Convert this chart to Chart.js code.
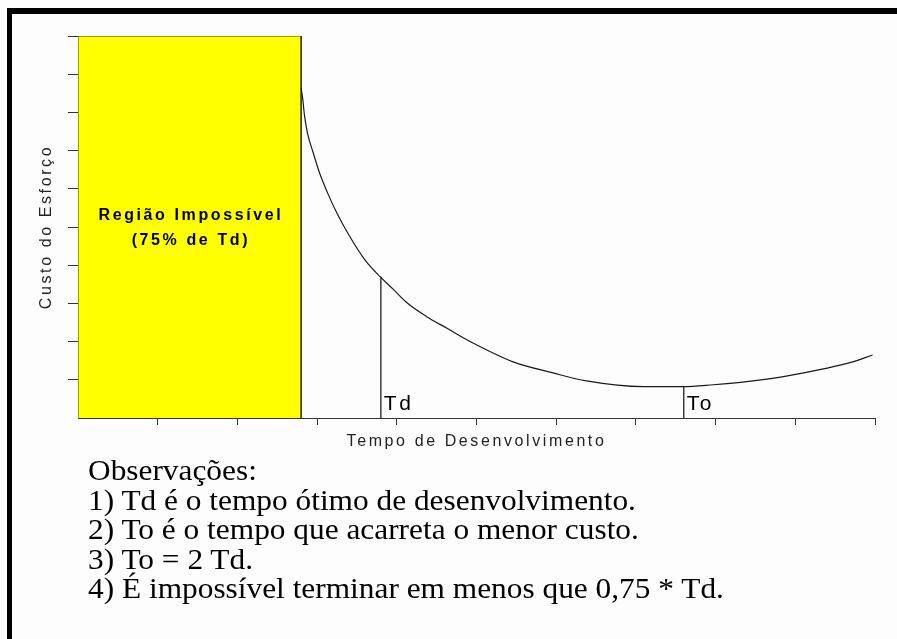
<!DOCTYPE html>
<html>
<head>
<meta charset="utf-8">
<script src="https://cdn.jsdelivr.net/npm/chart.js@4"></script>
<style>
  html, body { margin: 0; padding: 0; background: #fff; }
  #page { position: relative; width: 897px; height: 639px; overflow: hidden; background: #fdfdfd; }
  #frame { position: absolute; left: 7px; top: 8px; width: 900px; height: 640px;
           border-top: 6px solid #000; border-left: 5px solid #000; }
  #chart-box { position: absolute; left: 0; top: 0; width: 897px; height: 460px; }
  #notes { position: absolute; left: 88px; top: 455px; font-family: "Liberation Serif", serif;
           font-size: 30px; line-height: 29.5px; color: #000; white-space: nowrap;
           transform: scaleX(1.045); transform-origin: left top; }
</style>
</head>
<body>
<div id="page">
  <div id="frame"></div>
  <div id="chart-box"><canvas id="effort-chart"></canvas></div>
  <div id="notes">
    <div>Observações:</div>
    <div>1) Td é o tempo ótimo de desenvolvimento.</div>
    <div>2) To é o tempo que acarreta o menor custo.</div>
    <div>3) To = 2 Td.</div>
    <div>4) É impossível terminar em menos que 0,75 * Td.</div>
  </div>
</div>
<script>
// Curve (x = tempo, y = custo, both 0..10)
const curveX = [2.80, 2.82, 2.84, 2.88, 2.95, 3.03, 3.13, 3.24, 3.41, 3.60, 3.79, 3.95, 4.12,
                4.37, 4.62, 4.95, 5.46, 5.96, 6.38, 7.09, 7.59, 7.97, 8.39, 8.97, 9.72, 9.97];
const curveY = [8.63, 8.35, 7.95, 7.45, 6.95, 6.42, 5.90, 5.40, 4.75, 4.14, 3.70, 3.38, 3.03,
                2.66, 2.36, 1.97, 1.47, 1.18, 0.97, 0.82, 0.82, 0.87, 0.95, 1.13, 1.47, 1.65];

// Impossible region (0 .. 0.75 * Td) and the two marked times
const regionX = [0, 0, 2.8, 2.8];
const regionY = [0, 10, 10, 0];
const markNames = ["Td", "To"];
const markX = [3.8, 7.6];
const markY = [3.70, 0.82];

const axisMin = 0;
const axisMax = 10;

const toPoints = (xs, ys) => xs.map((x, i) => ({ x: x, y: ys[i] }));

const noZeroTick = (ctx) => (ctx.tick && ctx.tick.value === 0) ? "rgba(0,0,0,0)" : "#333";

// letter spacing for the scale titles (the original font is spaced out)
const spacingPlugin = {
    id: "spacing",
    beforeDraw(chart) {
        chart.ctx.letterSpacing = "2.6px";
    },
    afterDraw(chart) {
        chart.ctx.letterSpacing = "0px";
    }
};

// text labels: region caption and Td / To
const labelPlugin = {
    id: "labels",
    afterDatasetsDraw(chart) {
        const { ctx, scales: { x, y } } = chart;
        ctx.save();
        ctx.fillStyle = "#000";

        ctx.font = "bold 16px 'Liberation Sans'";
        ctx.letterSpacing = "2.6px";
        ctx.textAlign = "center";
        ctx.textBaseline = "middle";
        const cx = x.getPixelForValue(regionX[2] / 2) + 1.3;
        ctx.fillText("Região Impossível", cx, y.getPixelForValue(5.29));
        ctx.fillText("(75% de Td)", cx, y.getPixelForValue(4.64));

        ctx.font = "21px 'Liberation Sans'";
        ctx.letterSpacing = "2.5px";
        ctx.textAlign = "left";
        ctx.textBaseline = "alphabetic";
        markNames.forEach((name, i) => {
            ctx.fillText(name, x.getPixelForValue(markX[i]) + 3, y.bottom - 8);
        });
        ctx.restore();
    }
};

const datasets = [
    {
        label: "Região Impossível",
        data: toPoints(regionX, regionY),
        showLine: true,
        fill: "origin",
        backgroundColor: "#ffff00",
        borderColor: "#3d3d1a",
        borderWidth: 1,
        pointRadius: 0,
        order: 3
    },
    {
        label: "Custo do Esforço",
        data: toPoints(curveX, curveY),
        showLine: true,
        fill: false,
        borderColor: "#1a1a1a",
        borderWidth: 1.2,
        cubicInterpolationMode: "monotone",
        pointRadius: 0,
        order: 1
    }
];
markNames.forEach((name, i) => {
    datasets.push({
        label: name,
        data: [{ x: markX[i], y: 0 }, { x: markX[i], y: markY[i] }],
        showLine: true,
        fill: false,
        borderColor: "#3a3a3a",
        borderWidth: 1.5,
        pointRadius: 0,
        order: 2
    });
});

const ctx = document.getElementById("effort-chart").getContext("2d");
const effortChart = new Chart(ctx, {
    type: "scatter",
    data: { datasets: datasets },
    options: {
        responsive: true,
        maintainAspectRatio: false,
        animation: false,
        layout: { padding: { left: 0, top: 36, right: 22, bottom: 0 } },
        plugins: {
            legend: { display: false },
            tooltip: { enabled: false }
        },
        scales: {
            x: {
                type: "linear",
                min: axisMin,
                max: axisMax,
                ticks: { stepSize: 1, display: false },
                grid: { display: true, drawOnChartArea: false, drawTicks: true, tickLength: 7, tickColor: noZeroTick, tickWidth: 1 },
                border: { display: true, color: "#333", width: 1 },
                title: {
                    display: true,
                    text: "Tempo de Desenvolvimento",
                    color: "#222",
                    font: { family: "'Liberation Sans'", size: 16 },
                    padding: { top: 0, bottom: 8.4 }
                },
                afterFit(scale) { scale.height = 42; }
            },
            y: {
                type: "linear",
                min: axisMin,
                max: axisMax,
                ticks: { stepSize: 1, display: false },
                grid: { display: true, drawOnChartArea: false, drawTicks: true, tickLength: 10, tickColor: noZeroTick, tickWidth: 1 },
                border: { display: true, color: "#333", width: 1 },
                title: {
                    display: true,
                    text: "Custo do Esforço",
                    color: "#222",
                    font: { family: "'Liberation Sans'", size: 16 },
                    padding: { top: 37, bottom: 0 }
                },
                afterFit(scale) { scale.width = 78; }
            }
        }
    },
    plugins: [spacingPlugin, labelPlugin]
});
</script>
</body>
</html>
